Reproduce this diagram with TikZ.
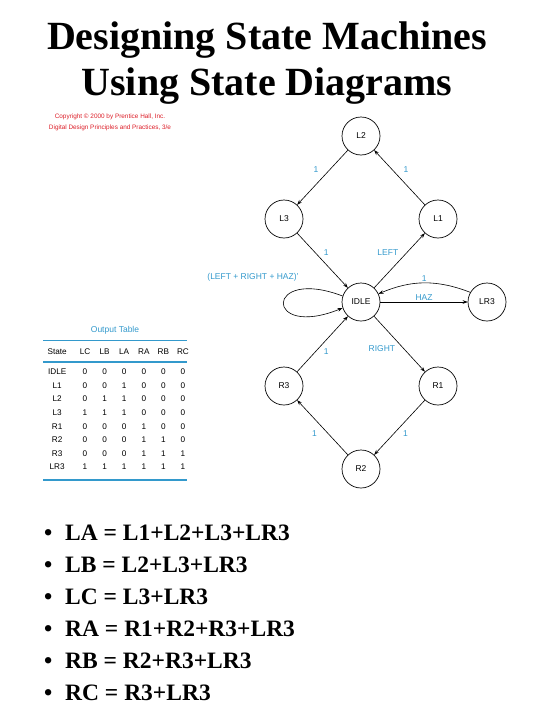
\documentclass[tikz,border=0pt]{standalone}
\usepackage{fontspec}
\setmainfont{Liberation Serif}
\setsansfont{Liberation Sans}
\usepackage{array}
\usetikzlibrary{positioning, arrows.meta}
\definecolor{labelblue}{RGB}{51,153,204}
\definecolor{copyred}{RGB}{220,30,40}

\begin{document}
\begin{tikzpicture}[
    x=1pt, y=-1pt,
    state/.style={circle, draw, line width=0.7pt, minimum size=38pt, inner sep=0pt, font=\sffamily\fontsize{8.5}{10}\selectfont},
    arrow/.style={-{Stealth[length=5pt, width=3.6pt]}, line width=0.6pt},
    lbl/.style={font=\sffamily\fontsize{8.5}{10}\selectfont, text=labelblue, inner sep=1.5pt},
    tabrule/.style={draw=labelblue, line width=1.2pt},
    tabtext/.style={font=\sffamily\fontsize{8.2}{13.6}\selectfont, inner sep=0pt, anchor=west},
    titleline/.style={font=\bfseries\fontsize{40}{48}\selectfont, inner sep=0pt, anchor=base},
    eqline/.style={font=\bfseries\fontsize{23.5}{30}\selectfont, inner sep=0pt, anchor=base west}
]
\useasboundingbox (0,0) rectangle (540,720);

\node[titleline] (title1) at (267,49) {Designing State Machines};
\node[titleline] (title2) at (267,95) {Using State Diagrams};

\node[font=\sffamily\fontsize{6.4}{11}\selectfont, text=copyred, align=center] (copyright) at (110,122) {Copyright \textcopyright\ 2000 by Prentice Hall, Inc.\\Digital Design Principles and Practices, 3/e};

\node[state] (l2) at (361,136) {L2};
\node[state] (l3) at (284,219) {L3};
\node[state] (l1) at (438,219) {L1};
\node[state] (idle) at (361,302) {IDLE};
\node[state] (lr3) at (487,302) {LR3};
\node[state] (r3) at (284,386) {R3};
\node[state] (r1) at (438,386) {R1};
\node[state] (r2) at (361,469) {R2};

\draw[arrow] (l2) -- (l3) node[lbl, pos=0.35, left=10pt] (l2l3) {1};
\draw[arrow] (l1) -- (l2) node[lbl, pos=0.65, right=10pt] (l1l2) {1};
\draw[arrow] (l3) -- (idle) node[lbl, pos=0.45, above right=0pt and 2pt] (l3idle) {1};
\draw[arrow] (idle) -- (l1) node[lbl, pos=0.55, above left=0pt and 2pt] (idlel1) {LEFT};
\draw[arrow] (r3) -- (idle) node[lbl, pos=0.45, below right=0pt and 2pt] (r3idle) {1};
\draw[arrow] (idle) -- (r1) node[lbl, pos=0.45, below left=3pt and 0pt] (idler1) {RIGHT};
\draw[arrow] (r1) -- (r2) node[lbl, pos=0.62, right=8pt] (r1r2) {1};
\draw[arrow] (r2) -- (r3) node[lbl, pos=0.38, left=10pt] (r2r3) {1};
\draw[arrow] (idle) -- (lr3) node[lbl, midway, above] (idlelr3) {HAZ};
\draw[arrow] (lr3.150) to[bend right=22] node[lbl, midway, above] (lr3idle) {1} (idle.25);
\draw[arrow] (idle.162) .. controls (264,266) and (264,340) .. (idle.198);
\node[lbl] (loop) at (253,277) {(LEFT + RIGHT + HAZ)'};

\node[font=\sffamily\fontsize{8.5}{10}\selectfont, text=labelblue] (tabtitle) at (115,330) {Output Table};
\node[tabtext] (tabhead) at (43,351.5) {\setlength{\tabcolsep}{0pt}\begin{tabular}{wc{28pt}@{\hspace{4pt}}*{6}{wc{19.6pt}}}
State & LC & LB & LA & RA & RB & RC
\end{tabular}};
\node[tabtext] (tabbody) at (43,419.5) {\setlength{\tabcolsep}{0pt}\begin{tabular}{wc{28pt}@{\hspace{4pt}}*{6}{wc{19.6pt}}}
IDLE & 0 & 0 & 0 & 0 & 0 & 0\\
L1 & 0 & 0 & 1 & 0 & 0 & 0\\
L2 & 0 & 1 & 1 & 0 & 0 & 0\\
L3 & 1 & 1 & 1 & 0 & 0 & 0\\
R1 & 0 & 0 & 0 & 1 & 0 & 0\\
R2 & 0 & 0 & 0 & 1 & 1 & 0\\
R3 & 0 & 0 & 0 & 1 & 1 & 1\\
LR3 & 1 & 1 & 1 & 1 & 1 & 1
\end{tabular}};
\draw[tabrule] (43,340.5) -- (187,340.5);
\draw[tabrule] (43,362) -- (187,362);
\draw[tabrule] (43,480) -- (187,480);

\node[eqline] (eqla) at (44,540) {\makebox[21pt][l]{\textbullet}LA = L1+L2+L3+LR3};
\node[eqline] (eqlb) at (44,572) {\makebox[21pt][l]{\textbullet}LB = L2+L3+LR3};
\node[eqline] (eqlc) at (44,604) {\makebox[21pt][l]{\textbullet}LC = L3+LR3};
\node[eqline] (eqra) at (44,636) {\makebox[21pt][l]{\textbullet}RA = R1+R2+R3+LR3};
\node[eqline] (eqrb) at (44,668) {\makebox[21pt][l]{\textbullet}RB = R2+R3+LR3};
\node[eqline] (eqrc) at (44,700) {\makebox[21pt][l]{\textbullet}RC = R3+LR3};

\end{tikzpicture}
\end{document}
